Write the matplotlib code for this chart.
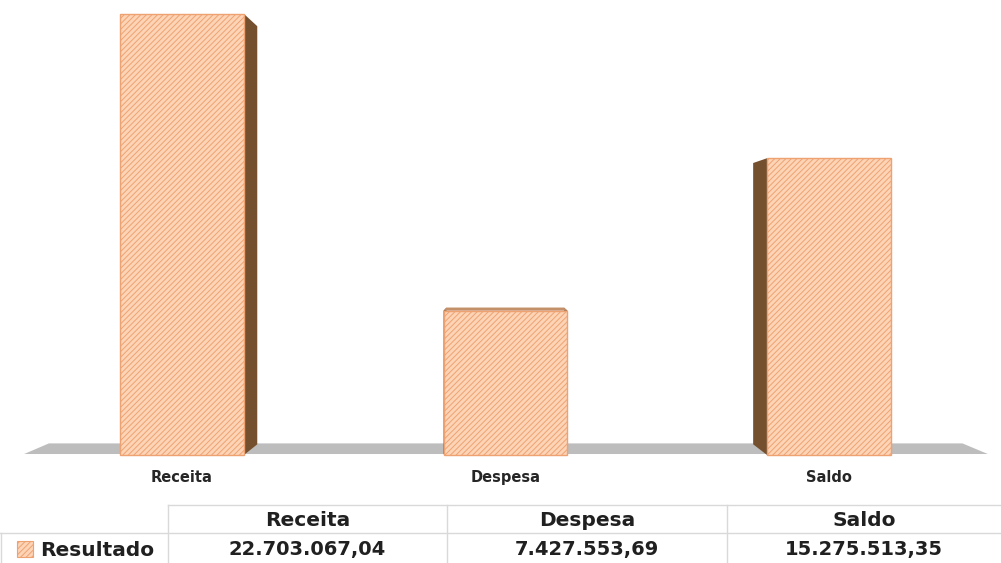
import numpy as np
import matplotlib.pyplot as plt
from matplotlib.patches import Polygon, Rectangle

categorias = ['Receita', 'Despesa', 'Saldo']
valores = [22703067.04, 7427553.69, 15275513.35]
serie = 'Resultado'


def fmt_br(v):
    s = f'{v:,.2f}'
    return s.replace(',', 'X').replace('.', ',').replace('X', '.')


plt.rcParams['hatch.linewidth'] = 0.7
plt.rcParams['font.family'] = ['DejaVu Sans']

fig = plt.figure(figsize=(10.01, 5.63), dpi=100)
ax = fig.add_axes([0, 0, 1, 1])
x = np.arange(len(categorias))
vals = np.array(valores) / 1e6
ax.set_xlim(-0.5626, 2.5317)
ax.set_ylim(-5.56, 23.42)
ax.axis('off')

# perspective (one vanishing point) for the fake 3d look
vp = (0.983, 10.55)
k = 0.052
w = 0.383


def back(px, py):
    return (px + (vp[0] - px) * k, py + (vp[1] - py) * k)


# floor
fl, fr, fy = -0.488, 2.491, 0.05
floor = Polygon([(fl, fy), (fr, fy), back(fr, fy), back(fl, fy)],
                closed=True, facecolor='#bdbdbd', edgecolor='none', zorder=1)
ax.add_patch(floor)

# side and top faces
for xi, v in zip(x, vals):
    l, r = xi - w / 2, xi + w / 2
    for px in (l, r):
        ax.add_patch(Polygon([(px, 0), (px, v), back(px, v), back(px, 0)],
                             closed=True, facecolor='#74502f', edgecolor='none', zorder=2))
    if v < vp[1]:  # top only seen when it is below eye level
        ax.add_patch(Polygon([(l, v), (r, v), back(r, v), back(l, v)],
                             closed=True, facecolor='#c4906a', edgecolor='none', zorder=2))

ax.bar(x, vals, w, color='#fdd4b6', edgecolor='#eea272', hatch='//////',
       linewidth=1.0, zorder=3)

for xi, c in zip(x, categorias):
    ax.text(xi, -1.18, c, ha='center', va='center', fontsize=10.5,
            fontweight='bold', color='#262626')

# data table below the chart
tax = fig.add_axes([0, 0, 1, 1])
tax.set_xlim(0, 1001)
tax.set_ylim(563, 0)
tax.axis('off')
tax.patch.set_alpha(0)

cols = [168, 447, 727, 1001]
lc = '#d9d9d9'
tax.plot([cols[0], 1001], [505, 505], color=lc, lw=1)
tax.plot([0, 1001], [533, 533], color=lc, lw=1)
for cx in cols[:3]:
    tax.plot([cx, cx], [505, 563], color=lc, lw=1)
tax.plot([1, 1], [533, 563], color=lc, lw=1)

for i, c in enumerate(categorias):
    cx = (cols[i] + cols[i + 1]) / 2
    tax.text(cx, 520, c, ha='center', va='center', fontsize=14.5,
             fontweight='bold', color='#202020')
    tax.text(cx, 550, fmt_br(valores[i]), ha='center', va='center', fontsize=14,
             fontweight='bold', color='#202020')

tax.add_patch(Rectangle((17, 541), 16, 16, facecolor='#fdd4b6', edgecolor='#eea272',
                        hatch='//////', lw=0.8))
tax.text(40, 550, serie, ha='left', va='center', fontsize=14.5,
         fontweight='bold', color='#202020')

fig.savefig('out.png', dpi=100)
